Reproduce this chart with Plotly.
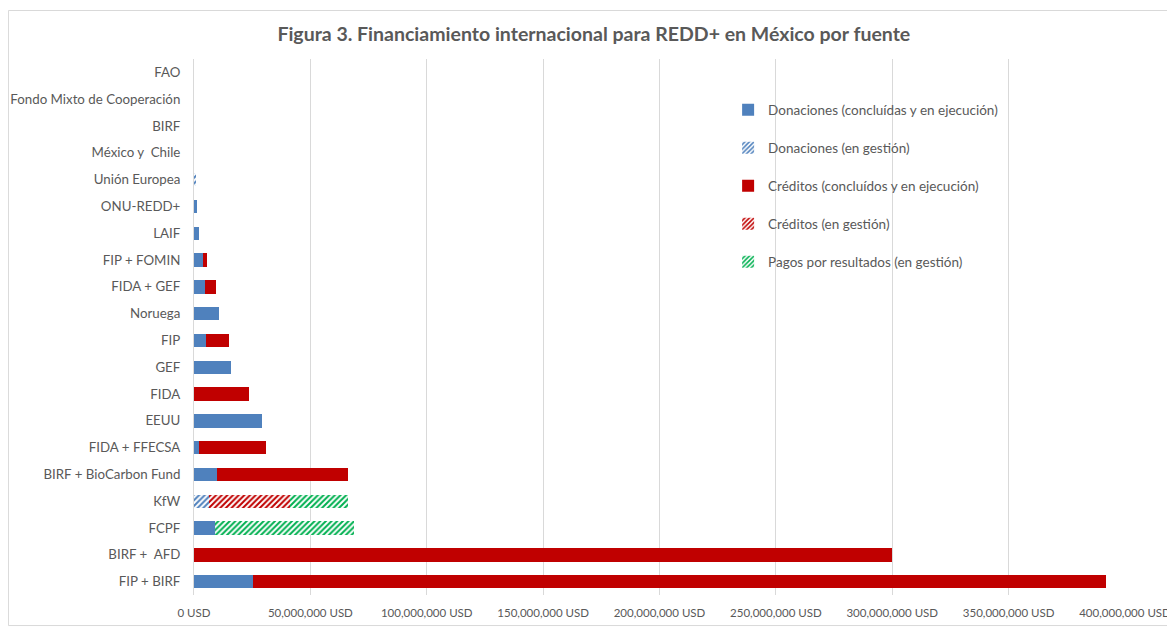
import plotly.graph_objects as go

# Categories listed bottom -> top
categories = ["FIP + BIRF", "BIRF +  AFD", "FCPF", "KfW", "BIRF + BioCarbon Fund",
              "FIDA + FFECSA", "EEUU", "FIDA", "GEF", "FIP", "Noruega", "FIDA + GEF",
              "FIP + FOMIN", "LAIF", "ONU-REDD+", "Unión Europea", "México y  Chile",
              "BIRF", "Fondo Mixto de Cooperación", "FAO"]

# Values in USD
don_conc = [25.5e6, 0, 8.9e6, 0, 10.0e6, 2.0e6, 29.0e6, 0, 15.9e6, 5.0e6, 10.7e6, 4.7e6,
            3.9e6, 2.0e6, 1.3e6, 0, 0, 0, 0, 0]
don_gest = [0, 0, 0, 6.6e6, 0, 0, 0, 0, 0, 0, 0, 0, 0, 0, 0, 0.7e6, 0, 0, 0, 0]
cred_conc = [366.5e6, 300.0e6, 0, 0, 56.0e6, 29.0e6, 0, 23.6e6, 0, 10.0e6, 0, 4.6e6,
             1.8e6, 0, 0, 0, 0, 0, 0, 0]
cred_gest = [0, 0, 0, 34.6e6, 0, 0, 0, 0, 0, 0, 0, 0, 0, 0, 0, 0, 0, 0, 0, 0]
pagos_gest = [0, 0, 59.7e6, 25.1e6, 0, 0, 0, 0, 0, 0, 0, 0, 0, 0, 0, 0, 0, 0, 0, 0]

x_tickvals = [0, 50e6, 100e6, 150e6, 200e6, 250e6, 300e6, 350e6, 400e6]
x_ticktext = [f"{int(v):,} USD" for v in x_tickvals]

series = [
    ("Donaciones (concluídas y en ejecución)", don_conc, "#4F81BD", ""),
    ("Donaciones (en gestión)", don_gest, "#4F81BD", "/"),
    ("Créditos (concluídos y en ejecución)", cred_conc, "#C00000", ""),
    ("Créditos (en gestión)", cred_gest, "#C00000", "/"),
    ("Pagos por resultados (en gestión)", pagos_gest, "#00B050", "/"),
]

FONT = "Lato"
GRAY = "#595959"

fig = go.Figure()
for i, (name, vals, color, shape) in enumerate(series):
    if shape:
        marker = dict(color="white", line=dict(width=0),
                      pattern=dict(shape=shape, fgcolor=color, bgcolor="white",
                                   size=4, solidity=0.5, fillmode="replace"))
    else:
        marker = dict(color=color, line=dict(width=0))
    fig.add_trace(go.Bar(y=categories, x=vals, name=name, orientation="h",
                         marker=marker, legendgroup=f"g{i}"))

# page body has an 8px margin: figure is 1167x620 placed at (8, 8)
fig.update_layout(
    width=1167, height=620,
    barmode="stack", bargap=0.5,
    plot_bgcolor="white", paper_bgcolor="white",
    margin=dict(l=186, r=50, t=51, b=33),
    font=dict(family=FONT, size=12, color=GRAY),
    title=dict(text="<b>Figura 3. Financiamiento internacional para REDD+ en México por fuente</b>",
               x=0.502, xanchor="center", y=0.958, yanchor="middle",
               font=dict(family=FONT, size=19.5, color=GRAY)),
    xaxis=dict(range=[0, 400e6], tickvals=x_tickvals, ticktext=x_ticktext,
               showgrid=True, gridcolor="#D9D9D9", automargin=False,
               gridwidth=1, zeroline=False, showline=False, ticklabelstandoff=9,
               tickfont=dict(family=FONT, size=11.5, color=GRAY)),
    yaxis=dict(type="category", categoryorder="array", categoryarray=categories,
               showline=True, linecolor="#D9D9D9", linewidth=1, ticks="",
               automargin=False, ticklabelstandoff=10,
               tickfont=dict(family=FONT, size=13.3, color=GRAY)),
    legend=dict(x=0.5737, y=0.934, xanchor="left", yanchor="top",
                tracegroupgap=17.5, font=dict(family=FONT, size=13.5, color=GRAY),
                bgcolor="rgba(0,0,0,0)"),
    showlegend=True,
)

# Chart-area border
fig.add_shape(type="rect", xref="paper", yref="paper",
              x0=-0.1993, x1=1.0483, y0=-0.057, y1=1.0905,
              line=dict(color="#D9D9D9", width=1), fillcolor="rgba(0,0,0,0)")

fig.write_html("out.html")
